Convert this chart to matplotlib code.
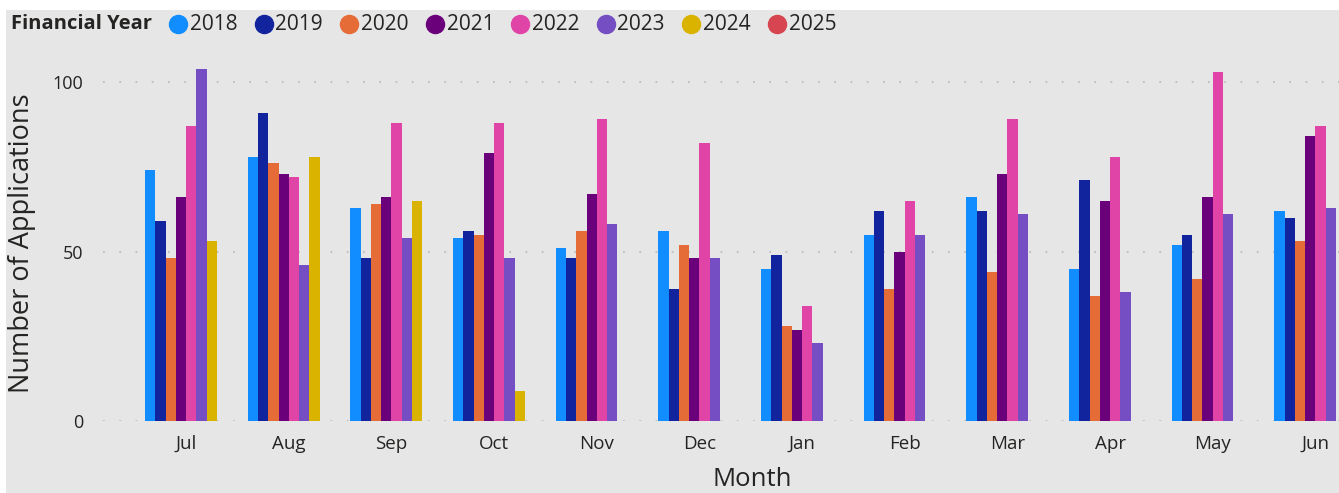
import numpy as np
import matplotlib.pyplot as plt
from matplotlib.lines import Line2D

plt.rcParams['font.family'] = ['Open Sans', 'DejaVu Sans']

# Applications per month, financial year runs Jul -> Jun
MONTHS = ["Jul", "Aug", "Sep", "Oct", "Nov", "Dec", "Jan", "Feb", "Mar", "Apr", "May", "Jun"]
YEARS = ["2018", "2019", "2020", "2021", "2022", "2023", "2024", "2025"]

fy2018 = [74, 78, 63, 54, 51, 56, 45, 55, 66, 45, 52, 62]
fy2019 = [59, 91, 48, 56, 48, 39, 49, 62, 62, 71, 55, 60]
fy2020 = [48, 76, 64, 55, 56, 52, 28, 39, 44, 37, 42, 53]
fy2021 = [66, 73, 66, 79, 67, 48, 27, 50, 73, 65, 66, 84]
fy2022 = [87, 72, 88, 88, 89, 82, 34, 65, 89, 78, 103, 87]
fy2023 = [104, 46, 54, 48, 58, 48, 23, 55, 61, 38, 61, 63]
fy2024 = [53, 78, 65, 9] + [np.nan] * 8
fy2025 = [np.nan] * 12

SERIES = [fy2018, fy2019, fy2020, fy2021, fy2022, fy2023, fy2024, fy2025]
COLORS = ["#118DFF", "#12239E", "#E66C37", "#6B007B", "#E044A7", "#744EC2", "#D9B300", "#D64550"]

W, H = 1339, 493
BG = "#E6E6E6"
TXT = "#252423"

fig = plt.figure(figsize=(W / 100, H / 100), dpi=100, facecolor="white")
# grey visual background
fig.patches.append(plt.Rectangle((6 / W, 0), 1, 1 - 10 / H, transform=fig.transFigure,
                                 facecolor=BG, edgecolor="none", zorder=-10))

ax = fig.add_axes([103 / W, 1 - 421 / H, 1 - 103 / W, (421 - 55) / H])
ax.set_facecolor(BG)

x = np.arange(len(MONTHS))
n = len(SERIES)
group_w = 0.8
bw = group_w / n
for i, (vals, col) in enumerate(zip(SERIES, COLORS)):
    offs = -group_w / 2 + bw * (i + 0.5)
    ax.bar(x + offs, vals, width=bw, color=col, linewidth=0, zorder=3)

ax.set_xlim(-0.81, 11.23)
ax.set_ylim(0, 108)
ax.set_yticks([0, 50, 100])
ax.set_xticks(x)
ax.set_xticklabels(MONTHS)
ax.grid(axis="y", color="#BDBDBD", linestyle=(0, (1, 8)), linewidth=1.3, zorder=0)
ax.tick_params(axis="both", length=0, colors=TXT)
ax.tick_params(axis="y", pad=14, labelsize=13)
ax.tick_params(axis="x", pad=10, labelsize=13.5)
for s in ax.spines.values():
    s.set_visible(False)

ax.set_ylabel("Number of Applications", fontsize=19.5, color=TXT)
ax.yaxis.set_label_coords(-0.054, 0.486)
ax.set_xlabel("Month", fontsize=18.5, color=TXT)
ax.xaxis.set_label_coords(0.525, -0.125)

# legend across the top
ly = 1 - 24 / H
fig.text(11 / W, ly, "Financial Year", fontsize=14.5, fontweight="bold", color=TXT,
         va="center", ha="left")
for i, (yr, col) in enumerate(zip(YEARS, COLORS)):
    cx = 178 + i * 85.5
    fig.add_artist(Line2D([cx / W], [ly], marker="o", markersize=13, color=col,
                          linestyle="none", transform=fig.transFigure))
    fig.text((cx + 12) / W, ly, yr, fontsize=15, color=TXT, va="center", ha="left")

fig.savefig("out.png", dpi=100, facecolor="white")
